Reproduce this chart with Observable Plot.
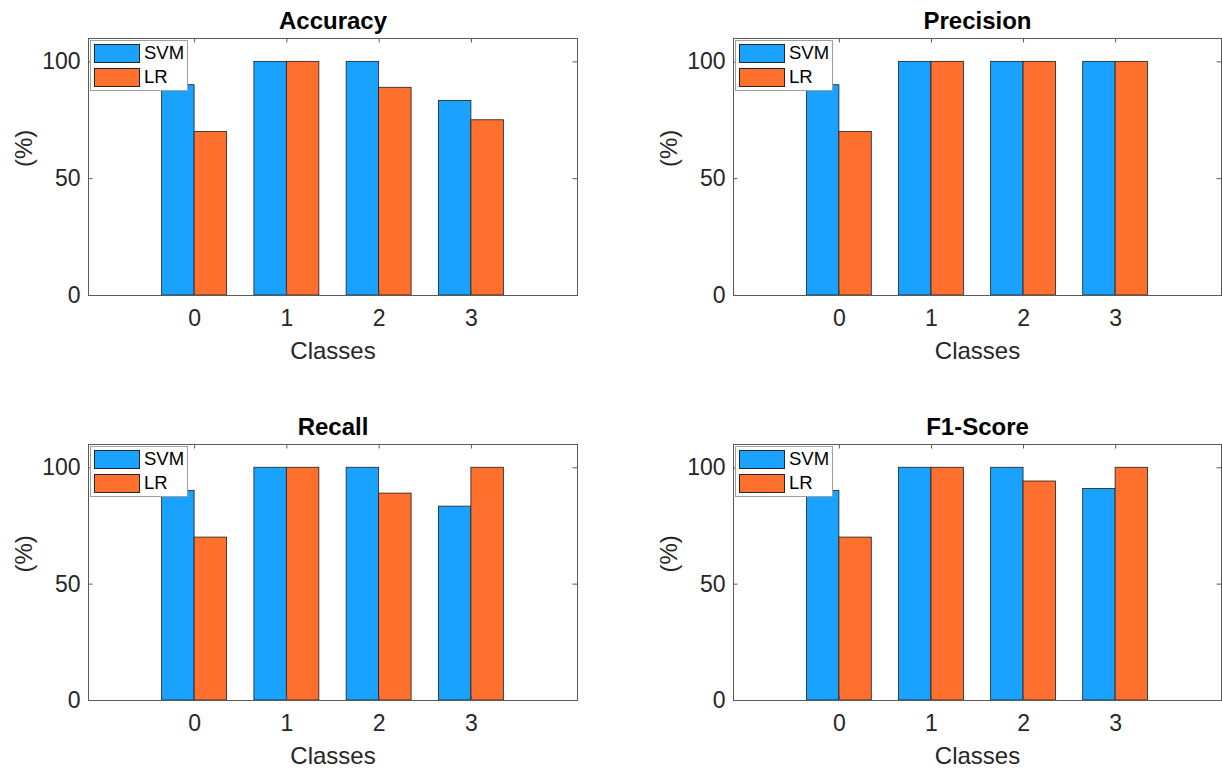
<!DOCTYPE html>
<html>
<head>
<meta charset="utf-8">
<script src="https://cdn.jsdelivr.net/npm/d3@7"></script>
<script src="https://cdn.jsdelivr.net/npm/@observablehq/plot@0.6"></script>
<style>
  body { margin: 0; background: white; }
  #chart { position: relative; width: 1222px; height: 771px; background: white; overflow: hidden;
           font-family: "Liberation Sans", Arial, Helvetica, sans-serif; }
  #chart svg { position: absolute; }
  .legend { position: absolute; width: 96px; height: 49px; background: white; border: 1px solid #a0a0a0; }
  .legend .sw { position: absolute; left: 3px; width: 44px; height: 17px; border: 1px solid #262626; }
  .legend .lb { position: absolute; left: 53px; font-size: 18.5px; color: #000; line-height: 20px; }
</style>
</head>
<body>
<div id="chart"></div>
<script>
// ---- data ----
const classes = [0, 1, 2, 3];
const seriesNames = ["SVM", "LR"];
const seriesColors = ["#19A2FF", "#FF6F2E"];
const metrics = ["Accuracy", "Precision", "Recall", "F1-Score"];
const svmAccuracy  = [90, 100, 100, 83.3];
const lrAccuracy   = [70, 100, 88.9, 75];
const svmPrecision = [90, 100, 100, 100];
const lrPrecision  = [70, 100, 100, 100];
const svmRecall    = [90, 100, 100, 83.3];
const lrRecall     = [70, 100, 88.9, 100];
const svmF1        = [90, 100, 100, 90.9];
const lrF1         = [70, 100, 94.1, 100];
const yTicks = [0, 50, 100];
const xTickLabels = ["0", "1", "2", "3"];
const xLabel = "Classes";
const yLabel = "(%)";

// ---- layout ----
const values = {
  "Accuracy": [svmAccuracy, lrAccuracy],
  "Precision": [svmPrecision, lrPrecision],
  "Recall": [svmRecall, lrRecall],
  "F1-Score": [svmF1, lrF1]
};
const panelW = 611;
const layouts = [
  {left: 0,   top: 0,   height: 400, mt: 38, mb: 105, ml: 88,  mr: 34},
  {left: 611, top: 0,   height: 400, mt: 38, mb: 105, ml: 122, mr: 1},
  {left: 0,   top: 400, height: 371, mt: 44, mb: 71,  ml: 88,  mr: 34},
  {left: 611, top: 400, height: 371, mt: 44, mb: 71,  ml: 122, mr: 1}
];
const barW = 0.352;
const frameColor = "#5a5a5a";
const container = document.getElementById("chart");

metrics.forEach((metric, i) => {
  const L = layouts[i];
  const [svm, lr] = values[metric];
  const rows = [];
  classes.forEach((c, j) => {
    rows.push({cls: c, series: "SVM", value: svm[j]});
    rows.push({cls: c, series: "LR", value: lr[j]});
  });
  const FW = panelW - L.ml - L.mr;
  const FH = L.height - L.mt - L.mb;
  const tick = 4.5;
  const svg = Plot.plot({
    width: panelW,
    height: L.height,
    marginTop: L.mt, marginBottom: L.mb, marginLeft: L.ml, marginRight: L.mr,
    x: {type: "linear", domain: [-1.15, 4.15]},
    y: {domain: [0, 110]},
    color: {domain: seriesNames, range: seriesColors},
    style: {fontFamily: '"Liberation Sans", Arial, Helvetica, sans-serif', fontSize: "23px", color: "#262626", background: "white", overflow: "visible"},
    marks: [
      Plot.rect(rows, {
        x1: d => d.series === "SVM" ? d.cls - barW : d.cls,
        x2: d => d.series === "SVM" ? d.cls : d.cls + barW,
        y1: 0, y2: "value",
        fill: "series", stroke: "#1e1e1e", strokeWidth: 0.8
      }),
      // inward tick marks (MATLAB style), on all four sides
      Plot.tickX(classes, {x: d => d, insetTop: FH - tick, stroke: frameColor}),
      Plot.tickX(classes, {x: d => d, insetBottom: FH - tick, stroke: frameColor}),
      Plot.tickY(yTicks, {y: d => d, insetRight: FW - tick, stroke: frameColor}),
      Plot.tickY(yTicks, {y: d => d, insetLeft: FW - tick, stroke: frameColor}),
      Plot.frame({stroke: frameColor, strokeWidth: 1}),
      Plot.axisX(classes, {tickSize: 0, tickPadding: 14, fontSize: 23, label: null, tickFormat: d => xTickLabels[classes.indexOf(d)]}),
      Plot.axisY(yTicks, {tickSize: 0, tickPadding: 8, fontSize: 23, label: null}),
      Plot.text([metric], {text: d => d, frameAnchor: "top", lineAnchor: "middle", dy: -17.5, fontSize: 24, fontWeight: "bold", fill: "black"}),
      Plot.text([xLabel], {text: d => d, frameAnchor: "bottom", lineAnchor: "middle", dy: 55.6, fontSize: 24}),
      Plot.text([yLabel], {text: d => d, frameAnchor: "left", lineAnchor: "middle", dx: -64, rotate: -90, fontSize: 24})
    ]
  });
  svg.style.left = L.left + "px";
  svg.style.top = L.top + "px";
  container.appendChild(svg);

  // legend box (top-left inside the axes)
  const lg = document.createElement("div");
  lg.className = "legend";
  lg.style.left = (L.left + L.ml + 2) + "px";
  lg.style.top = (L.top + L.mt + 2) + "px";
  seriesNames.forEach((name, k) => {
    const sw = document.createElement("div");
    sw.className = "sw";
    sw.style.top = (3 + k * 24) + "px";
    sw.style.background = seriesColors[k];
    lg.appendChild(sw);
    const lb = document.createElement("div");
    lb.className = "lb";
    lb.style.top = (2 + k * 24) + "px";
    lb.textContent = name;
    lg.appendChild(lb);
  });
  container.appendChild(lg);
});
</script>
</body>
</html>
